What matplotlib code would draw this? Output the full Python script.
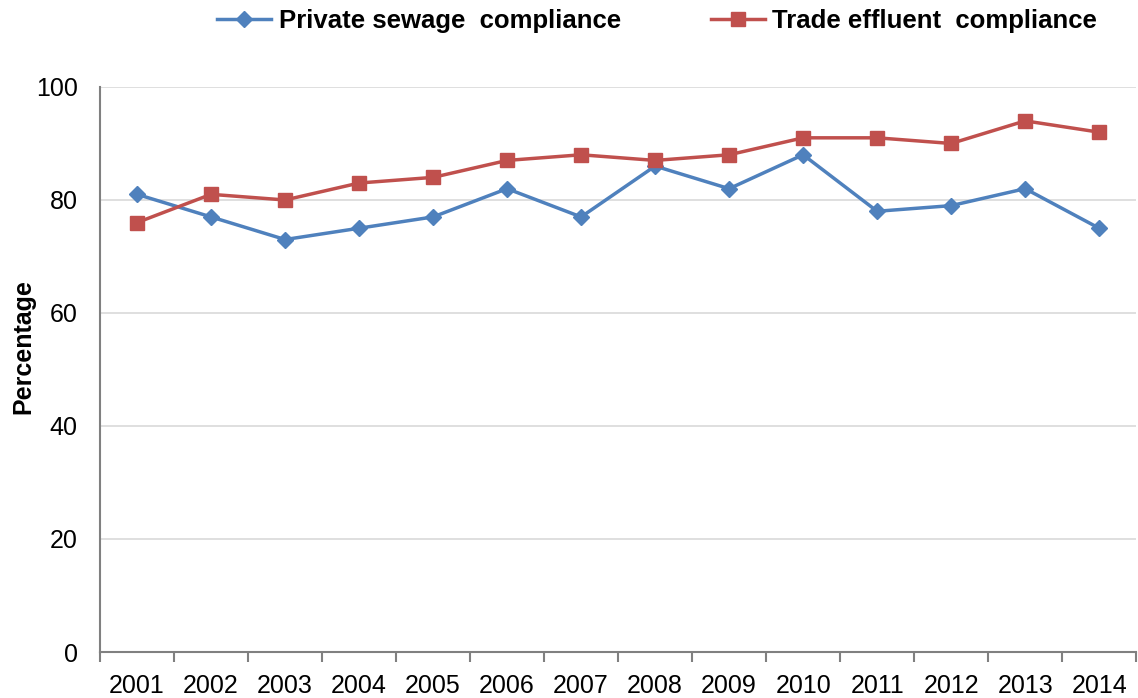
import numpy as np
import matplotlib.pyplot as plt

plt.rcParams['font.family'] = ['Liberation Sans', 'DejaVu Sans']

# Data
years = ['2001', '2002', '2003', '2004', '2005', '2006', '2007',
         '2008', '2009', '2010', '2011', '2012', '2013', '2014']
private_sewage = [81, 77, 73, 75, 77, 82, 77, 86, 82, 88, 78, 79, 82, 75]
trade_effluent = [76, 81, 80, 83, 84, 87, 88, 87, 88, 91, 91, 90, 94, 92]

fig = plt.figure(figsize=(11.38, 6.98), dpi=100)
ax = fig.add_axes([0.0879, 0.0659, 0.9105, 0.8095])

x = np.arange(len(years))
ax.plot(x, private_sewage, color='#4F81BD', lw=2.5, marker='D', ms=8.5,
        label='Private sewage  compliance')
ax.plot(x, trade_effluent, color='#C0504D', lw=2.5, marker='s', ms=9.5,
        label='Trade effluent  compliance')

ax.set_xlim(-0.5, len(years) - 0.5)
ax.set_ylim(0, 100)
ax.set_yticks(np.arange(0, 101, 20))
ax.yaxis.grid(True, color='#D9D9D9', lw=1.2)
ax.set_axisbelow(True)

ax.set_xticks(x)
ax.set_xticklabels(years)
ax.set_xticks(np.arange(-0.5, len(years), 1), minor=True)
ax.tick_params(axis='x', which='major', length=0, pad=16, labelsize=18)
ax.tick_params(axis='x', which='minor', length=7, width=1.5, color='#808080')
ax.tick_params(axis='y', length=0, pad=16, labelsize=18)

for side in ['top', 'right']:
    ax.spines[side].set_visible(False)
for side in ['left', 'bottom']:
    ax.spines[side].set_color('#808080')
    ax.spines[side].set_linewidth(1.5)

ax.set_ylabel('Percentage', fontsize=18, fontweight='bold')
ax.yaxis.set_label_coords(-0.062, 0.54)

fig.legend(loc='upper center', bbox_to_anchor=(0.5775, 1.02), ncol=2,
           frameon=False, handlelength=2.1, handletextpad=0.3,
           columnspacing=3.5, prop={'size': 18.5, 'weight': 'bold'})

fig.savefig('out.png', dpi=100)
